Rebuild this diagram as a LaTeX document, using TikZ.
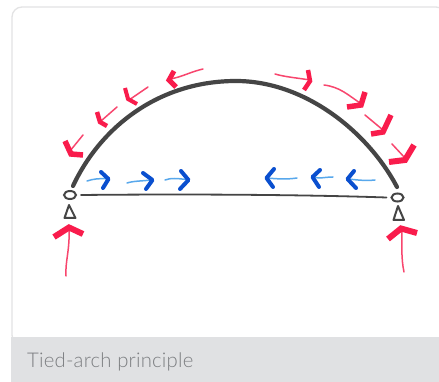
\documentclass[tikz,border=0pt]{standalone}
\usepackage{fontspec}
\setmainfont{Lato}[UprightFont=* Light]
\usetikzlibrary{shapes.geometric}
\definecolor{cardline}{HTML}{E3E3E4}
\definecolor{capfill}{HTML}{E0E1E3}
\definecolor{captext}{HTML}{7C7E81}
\definecolor{inkdark}{HTML}{454545}
\definecolor{redhead}{HTML}{F91C4C}
\definecolor{redshaft}{HTML}{F8466E}
\definecolor{bluehead}{HTML}{0A4FCF}
\definecolor{blueshaft}{HTML}{58A8EC}
\tikzset{
  x=1pt,y=-1pt,
  card/.style={draw=cardline,line width=1.3pt,fill=white,rounded corners=10pt},
  capband/.style={fill=capfill,draw=none},
  captionlabel/.style={anchor=base west,inner sep=0,text=captext,font=\fontsize{20.3}{22}\selectfont\addfontfeatures{LetterSpace=1}},
  archline/.style={draw=inkdark,line width=4.2pt,line cap=round},
  tieline/.style={draw=inkdark,line width=1.8pt,line cap=round},
  ring/.style={ellipse,draw=inkdark,line width=2pt,fill=white,minimum width=12pt,minimum height=8pt,inner sep=0},
  seat/.style={draw=inkdark,line width=2pt,line join=round},
  rshaft/.style={draw=redshaft,line width=1.5pt,line cap=round},
  rhead/.style={draw=redhead,line width=#1,line join=miter,line cap=butt},
  rhead/.default=4.5pt,
  bshaft/.style={draw=blueshaft,line width=1.5pt,line cap=round},
  bhead/.style={draw=bluehead,line width=4pt,line join=round,line cap=round},
}
\begin{document}
\begin{tikzpicture}
\useasboundingbox (0,0) rectangle (439,382);
\fill[white] (0,0) rectangle (439,382);
\path[card] (12,345) -- (12,7) -- (446,7) -- (446,345) -- cycle;
\fill[capband] (11.3,337) rectangle (439,382);
\node[captionlabel] (caption) at (27,367.5) {Tied-arch principle};

% supports
\node[ring] (ringL) at (70,195) {};
\node[ring] (ringR) at (397.5,197.5) {};
\draw[seat] (69,205) -- (64.5,218) -- (75.5,218) -- cycle;
\draw[seat] (398,206) -- (393.5,220) -- (404,220) -- cycle;

% arch
\draw[archline] (73,186) .. controls (100,128) and (158,81) .. (236,81)
  .. controls (305,81) and (368,132) .. (397,187);

% tie
\draw[tieline] (ringL.east) ++(4,0) .. controls (180,194) and (300,194.5) .. ([xshift=-4pt]ringR.west);

% red arrows on the arch
\draw[rshaft] (83,135) -- (70,151);
\draw[rhead=5.5pt] (65,141) -- (71,154) -- (83,155);
\draw[rshaft] (117,107) -- (101,121);
\draw[rhead=4.5pt] (97,112) -- (100,122) -- (107,126);
\draw[rshaft] (148,87) -- (129,100);
\draw[rhead=4pt] (125,88) -- (128,99) -- (137,104);
\draw[rshaft] (203,69) .. controls (190,72) and (182,77) .. (170,79);
\draw[rhead=5pt] (174,71) -- (169,80) -- (176,87);

\draw[rshaft] (275,74) .. controls (285,77) and (298,78) .. (310,80);
\draw[rhead=4.5pt] (308,70) -- (310,81) -- (304,90);
\draw[rshaft] (324,85) .. controls (340,87) and (348,95) .. (360,103);
\draw[rhead=5.5pt] (365,92) -- (361,105) -- (347,107);
\draw[rshaft] (365,115) -- (383,130);
\draw[rhead=5.5pt] (391,115) -- (383,132) -- (371,134);
\draw[rshaft] (392,144) -- (405,158);
\draw[rhead=6pt] (414,145) -- (405,160) -- (389,162);

% red reactions
\draw[rshaft] (66,276) .. controls (65,262) and (70,250) .. (69,228);
\draw[rhead=6pt] (54,237) -- (69,227.5) -- (83,234);
\draw[rshaft] (404,272) .. controls (401,258) and (402,245) .. (402,228);
\draw[rhead=6pt] (388,239) -- (401,228.5) -- (417,233);

% blue arrows
\draw[bshaft] (87,181) .. controls (93,179) and (100,178) .. (108,179);
\draw[bhead] (101,172) -- (108.5,179) -- (103,188);
\draw[bshaft] (127,183) .. controls (133,181) and (142,181) .. (152,180);
\draw[bhead] (143,173) -- (152.5,180) -- (146,189);
\draw[bshaft] (165,180) .. controls (170,178) and (178,178) .. (188,180);
\draw[bhead] (181,171) -- (188.5,180) -- (180,189);

\draw[bshaft] (297,178) .. controls (287,179.5) and (278,179) .. (267,178);
\draw[bhead] (274,169) -- (266.5,178) -- (273,187);
\draw[bshaft] (333,177) .. controls (325,177) and (320,179) .. (313,177);
\draw[bhead] (320,170) -- (312.5,177) -- (319,187);
\draw[bshaft] (375,180) .. controls (365,181) and (358,180) .. (348,179);
\draw[bhead] (354,171) -- (347.5,179) -- (356,188);
\end{tikzpicture}
\end{document}
